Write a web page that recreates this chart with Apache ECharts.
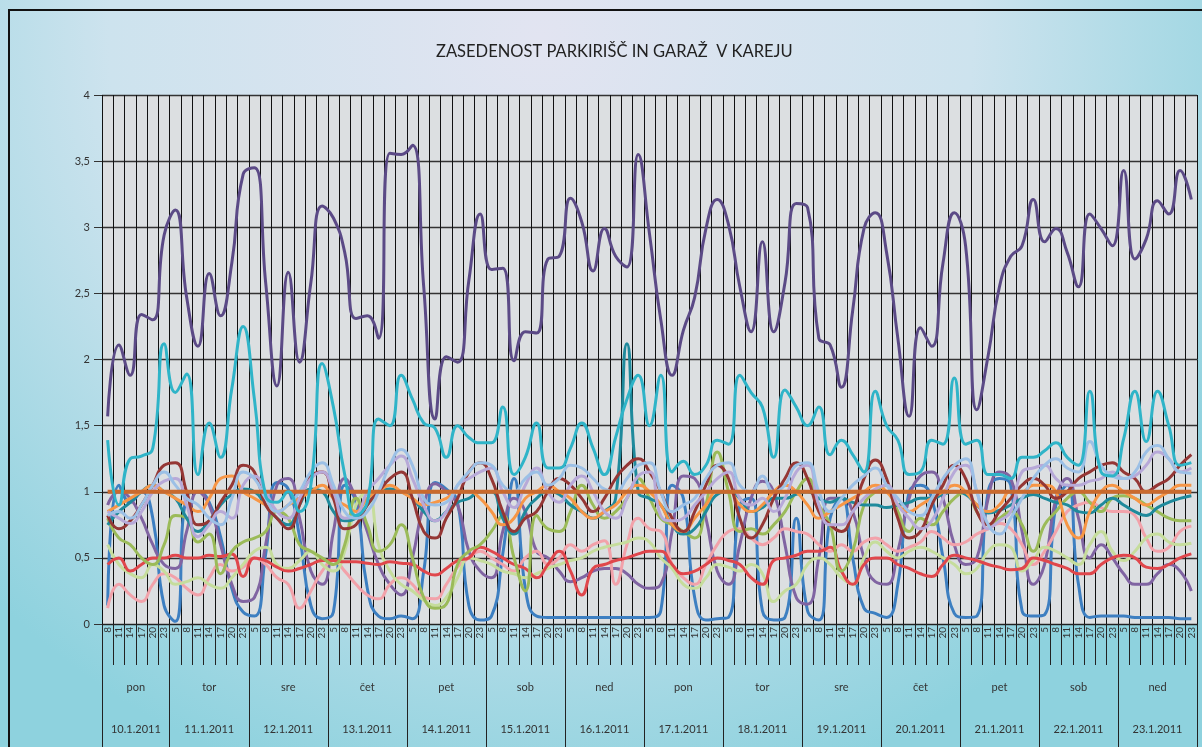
<!DOCTYPE html>
<html>
<head>
<meta charset="utf-8">
<title>Zasedenost parkirišč in garaž v Kareju</title>
<script src="https://cdn.jsdelivr.net/npm/echarts@6/dist/echarts.min.js"></script>
<style>
    html, body { margin: 0; padding: 0; }
    #main { width: 1202px; height: 747px; }
</style>
</head>
<body>
<div id="main"></div>
<script>
// ure (oznake kategorij)
var firstDayHours = ['8', '11', '14', '17', '20', '23'];
var dayHours = ['5', '8', '11', '14', '17', '20', '23'];
var days = ['pon', 'tor', 'sre', 'čet', 'pet', 'sob', 'ned', 'pon', 'tor', 'sre', 'čet', 'pet', 'sob', 'ned'];
var dates = ['10.1.2011', '11.1.2011', '12.1.2011', '13.1.2011', '14.1.2011', '15.1.2011', '16.1.2011',
    '17.1.2011', '18.1.2011', '19.1.2011', '20.1.2011', '21.1.2011', '22.1.2011', '23.1.2011'];
var yTicks = [0, 0.5, 1, 1.5, 2, 2.5, 3, 3.5, 4];

// serije
var darkPurple = [1.57, 2.11, 1.88, 2.34, 2.3, 2.94, 3.13, 2.47, 2.1, 2.65, 2.33, 2.73, 3.4, 3.45, 2.58, 1.8,
    2.66, 1.98, 2.58, 3.16, 3.07, 2.81, 2.31, 2.33, 2.16, 3.56, 3.55, 3.62, 2.55, 1.55, 2.02, 1.98,
    2.6, 3.1, 2.68, 2.69, 1.99, 2.21, 2.2, 2.76, 2.78, 3.22, 3.04, 2.67, 2.99, 2.78, 2.7, 3.55, 2.95,
    2.3, 1.88, 2.22, 2.47, 2.99, 3.21, 3.02, 2.55, 2.21, 2.89, 2.21, 2.58, 3.18, 3.15, 2.16, 2.11,
    1.79, 2.37, 2.99, 3.11, 2.81, 2.16, 1.57, 2.24, 2.1, 2.73, 3.11, 2.86, 1.62, 2.03, 2.55, 2.78,
    2.86, 3.21, 2.89, 2.99, 2.81, 2.55, 3.1, 2.99, 2.86, 3.43, 2.76, 2.91, 3.2, 3.1, 3.43, 3.21];
var cyan = [1.39, 0.9, 1.25, 1.27, 1.33, 2.12, 1.75, 1.89, 1.13, 1.52, 1.26, 1.78, 2.25, 1.7, 0.97, 0.92,
    1.0, 0.85, 1.05, 1.97, 1.64, 1.13, 0.82, 0.92, 1.55, 1.5, 1.88, 1.7, 1.52, 1.48, 1.26, 1.5,
    1.41, 1.37, 1.37, 1.64, 1.13, 1.26, 1.52, 1.18, 1.18, 1.33, 1.52, 1.33, 1.13, 1.41, 1.7, 1.88, 1.5,
    1.88, 1.15, 1.23, 1.13, 1.2, 1.39, 1.36, 1.88, 1.75, 1.64, 1.26, 1.77, 1.64, 1.5, 1.64, 1.28,
    1.39, 1.28, 1.15, 1.76, 1.5, 1.39, 1.13, 1.15, 1.39, 1.36, 1.86, 1.36, 1.39, 1.13, 1.13, 1.1,
    1.26, 1.26, 1.31, 1.37, 1.26, 1.2, 1.76, 1.15, 1.12, 1.4, 1.76, 1.38, 1.76, 1.5, 1.2, 1.22];
var maroon = [0.82, 0.72, 0.78, 0.9, 1.05, 1.2, 1.22, 1.0, 0.75, 0.78, 0.92, 1.05, 1.2, 1.15, 0.9, 0.8,
    0.72, 0.9, 1.12, 1.15, 0.95, 0.72, 0.75, 0.9, 1.0, 1.1, 1.15, 0.95, 0.7, 0.65, 0.8, 0.95,
    1.15, 1.22, 1.1, 0.85, 0.7, 0.8, 0.85, 1.0, 1.1, 1.05, 0.95, 0.85, 0.95, 1.1, 1.2, 1.25, 1.15,
    1.0, 0.8, 0.7, 0.85, 1.05, 1.2, 1.1, 0.8, 0.65, 0.75, 0.95, 1.1, 1.22, 1.1, 0.85, 0.75,
    0.7, 0.85, 1.1, 1.24, 1.1, 0.8, 0.65, 0.7, 0.9, 1.05, 1.2, 1.1, 0.85, 0.75, 0.85, 0.95,
    1.05, 1.1, 1.05, 0.95, 1.0, 1.1, 1.15, 1.2, 1.22, 1.15, 1.1, 1.0, 1.05, 1.1, 1.2, 1.28];
var orange = [0.85, 0.9, 0.95, 1.0, 1.05, 1.0, 0.95, 0.9, 0.85, 0.95, 1.1, 1.12, 1.0, 0.95, 0.9, 0.85,
    0.9, 0.95, 1.0, 1.05, 0.95, 0.9, 0.85, 0.95, 1.0, 1.05, 1.0, 0.95, 0.9, 0.92, 0.95, 1.0,
    1.0, 0.95, 0.85, 0.75, 0.8, 0.95, 1.0, 1.05, 1.0, 0.95, 0.85, 0.8, 0.85, 0.9, 1.0, 1.05, 1.0,
    0.9, 0.75, 0.7, 0.8, 0.9, 1.0, 1.0, 0.9, 0.85, 0.9, 1.0, 1.05, 1.0, 0.9, 0.8, 0.85,
    0.9, 0.95, 1.0, 1.05, 1.0, 0.9, 0.85, 0.9, 0.95, 1.0, 1.05, 1.0, 0.9, 0.85, 0.9, 1.0,
    1.0, 1.05, 1.05, 1.0, 0.75, 0.65, 0.85, 1.0, 1.05, 1.0, 0.95, 0.9, 0.95, 1.0, 1.05, 1.05];
var green = [0.8, 0.65, 0.6, 0.5, 0.45, 0.6, 0.82, 0.8, 0.62, 0.68, 0.38, 0.55, 0.62, 0.65, 0.7, 0.85,
    0.8, 0.6, 0.55, 0.5, 0.45, 0.6, 0.95, 0.75, 0.55, 0.6, 0.75, 0.5, 0.2, 0.12, 0.15, 0.45,
    0.55, 0.6, 0.7, 0.82, 0.5, 0.25, 0.82, 0.72, 0.7, 0.85, 1.05, 0.9, 0.8, 0.85, 0.95, 1.1, 0.95,
    0.8, 0.75, 0.7, 0.65, 0.9, 1.3, 1.0, 0.7, 0.72, 0.68, 0.75, 0.85, 1.0, 1.1, 0.9, 0.75,
    0.4, 0.55, 0.9, 1.0, 1.05, 0.85, 0.7, 0.8, 0.75, 0.85, 0.95, 1.0, 0.85, 0.75, 0.8, 0.85,
    0.75, 0.55, 0.75, 0.85, 0.95, 1.0, 0.92, 0.85, 0.95, 0.97, 0.95, 0.9, 0.85, 0.8, 0.78, 0.78];
var steelBlue = [0.14, 1.05, 0.92, 1.0, 0.8, 0.14, 0.02, 0.97, 1.0, 0.92, 0.66, 0.27, 0.09, 0.06, 0.53, 1.07,
    1.02, 0.66, 0.14, 0.04, 0.09, 1.05, 0.92, 0.27, 0.06, 0.04, 0.06, 0.04, 0.4, 1.07, 1.02, 0.92,
    0.14, 0.03, 0.06, 0.53, 1.1, 0.27, 0.06, 0.05, 0.05, 0.05, 0.05, 0.05, 0.05, 0.05, 0.05, 0.05, 0.05,
    0.1, 1.05, 0.95, 0.2, 0.03, 0.04, 0.05, 0.9, 0.95, 0.1, 0.03, 0.05, 0.8, 0.1, 0.03, 0.8,
    0.95, 0.5, 0.12, 0.08, 0.05, 0.3, 1.0, 1.05, 0.95, 0.5, 0.08, 0.05, 0.06, 1.0, 1.1, 1.05,
    0.1, 0.06, 0.07, 0.9, 1.05, 0.3, 0.05, 0.06, 0.06, 0.06, 0.05, 0.05, 0.05, 0.05, 0.04, 0.04];
var purple = [0.9, 1.0, 0.95, 0.8, 0.6, 0.45, 0.42, 0.7, 1.0, 0.9, 0.6, 0.3, 0.17, 0.2, 0.6, 1.05,
    1.1, 0.8, 0.4, 0.3, 0.7, 1.1, 0.95, 0.7, 0.45, 0.3, 0.22, 0.5, 0.9, 1.06, 1.0, 0.9,
    0.55, 0.4, 0.35, 0.7, 0.95, 0.85, 0.55, 0.5, 0.4, 0.32, 0.35, 0.4, 0.42, 0.42, 0.38, 0.3, 0.27,
    0.3, 0.7, 1.12, 1.1, 0.8, 0.4, 0.3, 0.6, 0.95, 1.08, 1.0, 0.6, 0.2, 0.15, 0.5, 0.95,
    0.95, 0.85, 0.5, 0.32, 0.3, 0.55, 0.95, 1.12, 1.15, 0.95, 0.6, 0.45, 0.5, 0.95, 1.15, 1.1,
    0.7, 0.3, 0.45, 0.95, 1.1, 0.8, 0.5, 0.6, 0.5, 0.38, 0.3, 0.3, 0.38, 0.45, 0.4, 0.25];
var red = [0.45, 0.5, 0.4, 0.45, 0.5, 0.5, 0.52, 0.5, 0.5, 0.52, 0.51, 0.53, 0.36, 0.5, 0.48, 0.43,
    0.4, 0.42, 0.45, 0.48, 0.48, 0.47, 0.47, 0.46, 0.45, 0.47, 0.46, 0.45, 0.4, 0.37, 0.42, 0.48,
    0.5, 0.58, 0.55, 0.5, 0.45, 0.42, 0.35, 0.45, 0.55, 0.4, 0.22, 0.42, 0.45, 0.48, 0.5, 0.53, 0.55,
    0.55, 0.45, 0.38, 0.4, 0.45, 0.5, 0.48, 0.45, 0.35, 0.3, 0.48, 0.5, 0.52, 0.55, 0.55, 0.58,
    0.4, 0.3, 0.45, 0.5, 0.5, 0.45, 0.42, 0.38, 0.36, 0.45, 0.52, 0.5, 0.48, 0.45, 0.43, 0.41,
    0.42, 0.5, 0.48, 0.45, 0.42, 0.38, 0.38, 0.45, 0.5, 0.52, 0.5, 0.43, 0.42, 0.45, 0.5, 0.53];
var pink = [0.12, 0.3, 0.22, 0.17, 0.3, 0.38, 0.35, 0.27, 0.22, 0.35, 0.45, 0.4, 0.43, 0.5, 0.45, 0.35,
    0.3, 0.12, 0.25, 0.4, 0.48, 0.4, 0.3, 0.22, 0.19, 0.3, 0.35, 0.3, 0.2, 0.19, 0.3, 0.43,
    0.5, 0.55, 0.5, 0.45, 0.4, 0.5, 0.55, 0.45, 0.5, 0.6, 0.55, 0.6, 0.63, 0.3, 0.6, 0.8, 0.72,
    0.7, 0.45, 0.35, 0.3, 0.45, 0.6, 0.7, 0.72, 0.65, 0.6, 0.65, 0.72, 0.7, 0.68, 0.6, 0.55,
    0.6, 0.55, 0.62, 0.65, 0.6, 0.55, 0.58, 0.62, 0.7, 0.65, 0.6, 0.62, 0.68, 0.72, 0.76, 0.72,
    0.6, 0.45, 0.55, 0.7, 0.85, 0.9, 0.92, 0.88, 0.85, 0.85, 0.82, 0.65, 0.55, 0.58, 0.7, 0.74];
var lightGreen = [0.6, 0.45, 0.38, 0.35, 0.45, 0.4, 0.3, 0.32, 0.35, 0.3, 0.27, 0.35, 0.45, 0.55, 0.58, 0.45,
    0.42, 0.48, 0.55, 0.45, 0.4, 0.55, 0.9, 1.0, 0.6, 0.4, 0.3, 0.25, 0.18, 0.14, 0.2, 0.35,
    0.5, 0.48, 0.45, 0.4, 0.38, 0.35, 0.38, 0.42, 0.45, 0.48, 0.5, 0.55, 0.58, 0.6, 0.62, 0.65, 0.62,
    0.5, 0.42, 0.3, 0.27, 0.35, 0.45, 0.43, 0.4, 0.45, 0.38, 0.17, 0.25, 0.3, 0.45, 0.5, 0.45,
    0.35, 0.3, 0.5, 0.62, 0.55, 0.5, 0.55, 0.58, 0.55, 0.5, 0.45, 0.38, 0.42, 0.55, 0.6, 0.58,
    0.4, 0.48, 0.58, 0.55, 0.5, 0.45, 0.6, 0.7, 0.55, 0.48, 0.55, 0.65, 0.68, 0.62, 0.6, 0.61];
var lavender = [0.85, 0.8, 0.76, 0.85, 1.0, 1.08, 1.1, 0.9, 0.66, 0.75, 0.85, 0.8, 1.05, 1.12, 1.0, 0.85,
    0.8, 0.95, 1.1, 1.15, 1.0, 0.8, 0.82, 1.0, 1.1, 1.2, 1.27, 1.1, 0.9, 0.78, 0.85, 1.05,
    1.1, 1.15, 1.18, 1.0, 0.88, 1.05, 1.18, 1.0, 0.92, 1.05, 1.12, 1.0, 0.85, 0.8, 0.95, 1.12, 1.15,
    0.82, 0.78, 0.8, 0.9, 1.0, 1.1, 1.15, 0.95, 0.9, 0.95, 0.85, 0.95, 1.15, 1.2, 0.9, 0.75,
    0.75, 0.85, 0.95, 1.02, 1.05, 0.9, 0.8, 0.72, 0.78, 0.95, 1.15, 1.2, 1.0, 0.72, 0.78, 0.85,
    1.15, 1.18, 1.2, 1.1, 1.05, 1.05, 1.08, 1.1, 1.15, 1.1, 1.12, 1.2, 1.3, 1.25, 1.15, 1.18];
var lightBlue = [0.82, 0.85, 0.8, 0.9, 1.05, 1.15, 1.05, 0.95, 0.9, 0.8, 0.75, 0.95, 1.15, 1.1, 0.95, 0.85,
    0.9, 1.0, 1.15, 1.22, 1.05, 0.85, 0.8, 0.85, 1.0, 1.2, 1.32, 1.2, 0.95, 0.9, 0.92, 1.05,
    1.15, 1.22, 1.2, 1.05, 1.0, 1.1, 1.15, 1.05, 1.1, 1.2, 1.18, 1.1, 1.02, 1.0, 1.1, 1.2, 1.22,
    1.0, 0.85, 0.9, 0.95, 1.1, 1.2, 1.22, 1.05, 1.0, 1.12, 1.0, 1.05, 1.2, 1.22, 1.0, 0.85,
    0.95, 1.05, 1.12, 1.18, 1.05, 0.95, 0.85, 0.82, 0.95, 1.1, 1.2, 1.25, 1.0, 0.75, 0.68, 0.8,
    0.95, 1.1, 1.2, 1.25, 1.18, 1.15, 1.38, 1.2, 1.12, 1.1, 1.15, 1.3, 1.35, 1.25, 1.15, 1.14];
var darkTeal = [0.75, 0.85, 0.92, 1.0, 1.05, 1.0, 0.95, 0.8, 0.7, 0.78, 0.9, 0.98, 1.02, 1.0, 0.9, 0.8,
    0.75, 0.9, 1.02, 1.0, 0.85, 0.78, 0.8, 0.9, 1.0, 1.02, 1.0, 0.95, 0.85, 0.78, 0.85, 0.92,
    0.95, 1.0, 1.0, 0.8, 0.68, 0.85, 0.95, 1.0, 0.98, 0.9, 0.85, 0.8, 0.85, 0.95, 2.12, 1.0, 0.95,
    0.9, 0.75, 0.68, 0.72, 0.85, 0.98, 1.0, 0.95, 0.85, 0.88, 0.95, 0.95, 0.98, 1.0, 0.95, 0.92,
    0.95, 0.92, 0.9, 0.9, 0.88, 0.9, 0.92, 0.95, 0.95, 0.98, 1.0, 0.98, 0.9, 0.84, 0.86, 0.9,
    0.95, 0.98, 0.95, 0.92, 0.9, 0.85, 0.84, 0.9, 0.95, 0.9, 0.85, 0.82, 0.88, 0.92, 0.95, 0.97];
var capacity = [];  // zasedenost 100 % (vodoravna črta pri 1)
var hours = firstDayHours.slice();
for (var d = 1; d < days.length; d++) {
    hours = hours.concat(dayHours);
}
for (var i = 0; i < hours.length; i++) capacity.push(1);

// meje dni in sredine za oznake
var bounds = [0, firstDayHours.length];
for (var d = 1; d < days.length; d++) bounds.push(bounds[bounds.length - 1] + dayHours.length);
var centers = [];
for (var d = 0; d < days.length; d++) centers.push((bounds[d] + bounds[d + 1]) / 2);
function dayIndex(v) {
    var best = 0;
    for (var k = 0; k < centers.length; k++) {
        if (Math.abs(centers[k] - v) < Math.abs(centers[best] - v)) best = k;
    }
    return best;
}

var font = 'Lato, "Liberation Sans", sans-serif';
var myChart = echarts.init(document.getElementById('main'));

function line(name, data, color, width) {
    return {
        name: name, type: 'line', data: data, smooth: true, symbol: 'none',
        xAxisIndex: 0, yAxisIndex: 0,
        lineStyle: {color: color, width: width || 3},
        itemStyle: {color: color},
        z: 3
    };
}

var option = {
    animation: false,
    backgroundColor: new echarts.graphic.RadialGradient(0.45, 0.05, 1.05, [
        {offset: 0, color: '#e2e4f1'},
        {offset: 0.55, color: '#cde3ee'},
        {offset: 1, color: '#8ed2de'}
    ]),
    title: {
        text: 'ZASEDENOST PARKIRIŠČ IN GARAŽ  V KAREJU',
        left: 431, top: 38,
        textStyle: {fontFamily: font, fontSize: 16.5, fontWeight: 'normal', color: '#222'}
    },
    graphic: [{
        type: 'rect', silent: true, z: 100,
        shape: {x: 9, y: 10, width: 1200, height: 745},
        style: {fill: 'none', stroke: '#111', lineWidth: 2}
    }],
    grid: {
        left: 102, right: 5, top: 95, bottom: 123,
        show: true, backgroundColor: '#dcdfe1', borderWidth: 0
    },
    xAxis: [{
        type: 'category', data: hours, boundaryGap: true,
        axisLine: {show: true, lineStyle: {color: '#222', width: 1}},
        axisTick: {show: true, interval: 0, length: 41, lineStyle: {color: '#222'}},
        axisLabel: {interval: 0, rotate: 90, margin: 3, fontSize: 10, color: '#333', fontFamily: font},
        splitLine: {show: true, interval: 0, lineStyle: {color: '#111', width: 1}}
    }, {
        type: 'value', min: 0, max: hours.length, position: 'bottom',
        axisLine: {show: false},
        axisTick: {show: true, customValues: bounds, length: 124, lineStyle: {color: '#222'}},
        axisLabel: {
            customValues: centers, margin: 58, fontSize: 11, color: '#333', fontFamily: font,
            formatter: function (v) { return days[dayIndex(v)]; }
        },
        splitLine: {show: false}
    }, {
        type: 'value', min: 0, max: hours.length, position: 'bottom',
        axisLine: {show: false},
        axisTick: {show: false},
        axisLabel: {
            customValues: centers, margin: 100, fontSize: 11, color: '#333', fontFamily: font,
            formatter: function (v) { return dates[dayIndex(v)]; }
        },
        splitLine: {show: false}
    }],
    yAxis: {
        type: 'value', min: yTicks[0], max: yTicks[yTicks.length - 1], interval: 0.5,
        axisLine: {show: false},
        axisTick: {show: true, length: 8, lineStyle: {color: '#333'}},
        axisLabel: {
            margin: 12, fontSize: 11, color: '#333', fontFamily: font,
            formatter: function (v) { return String(v).replace('.', ','); }
        },
        splitLine: {show: true, lineStyle: {color: '#333', width: 1.3}}
    },
    series: [
        line('s1', steelBlue, '#3d7fc1'),
        line('s2', purple, '#8064a2'),
        line('s3', pink, '#f2a2aa'),
        line('s4', lightGreen, '#c6dd9c'),
        line('s5', red, '#e0474c'),
        line('s6', green, '#9bbb59'),
        line('s7', darkTeal, '#1f8a9c'),
        line('s8', orange, '#f79646'),
        line('s9', maroon, '#953735'),
        line('s10', lavender, '#b7a9d8'),
        line('s11', lightBlue, '#9cc0e6'),
        line('s12', capacity, '#c96a2e', 4),
        line('s13', cyan, '#2fb4c8'),
        line('s14', darkPurple, '#5b4a86')
    ]
};
myChart.setOption(option);
</script>
</body>
</html>
